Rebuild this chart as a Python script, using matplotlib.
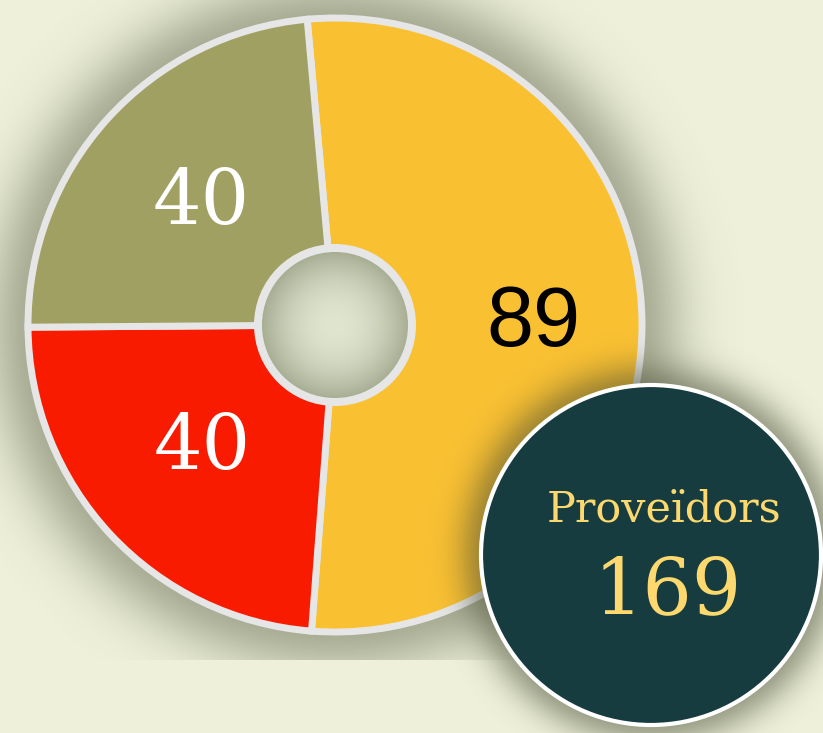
import numpy as np
import matplotlib
matplotlib.use('Agg')
import matplotlib.pyplot as plt
from matplotlib.patches import Circle

# ------------------------
# data
# ------------------------
values = [89, 40, 40]
labels = ['89', '40', '40']
colors = ['#f9c032', '#f81b00', '#a0a062']
label_colors = ['black', 'white', 'white']
total_title = 'Proveïdors'
total = sum(values)

bg = '#eef0d9'
W, H = 823, 733

fig = plt.figure(figsize=(W / 100, H / 100), dpi=100)
fig.patch.set_facecolor(bg)
ax = fig.add_axes([0, 0, 1, 1])
ax.set_facecolor(bg)

# donut geometry (pixels, y up)
cx, cy = 335, H - 325
r_out = 310
r_hole = 81

# ------------------------
# soft shadow behind the donut (clipped at the bottom like the container)
# ------------------------
yy, xx = np.mgrid[0:H, 0:W] + 0.5
d = np.hypot(xx - cx, yy - (H - cy))
alpha = np.where(d > 300, 0.5 * np.exp(-((d - 300) / 50.0) ** 2), 0.5)
alpha[yy > 660] = 0
shadow = np.zeros((H, W, 4))
shadow[..., 0] = 0.38
shadow[..., 1] = 0.40
shadow[..., 2] = 0.30
shadow[..., 3] = alpha
ax.imshow(shadow, extent=(0, W, 0, H), origin='upper', zorder=1, interpolation='bilinear')

# ------------------------
# donut
# ------------------------
wedges, _ = ax.pie(values, colors=colors, startangle=95.2, counterclock=False,
                   radius=r_out - 3, center=(cx, cy), frame=False,
                   wedgeprops=dict(width=r_out - 3 - 76, edgecolor='#e6e6e6', linewidth=5))
for w in wedges:
    w.set_zorder(2)

label_r = [198, 181, 181]
for w, lab, col, r in zip(wedges, labels, label_colors, label_r):
    ang = np.deg2rad((w.theta1 + w.theta2) / 2)
    x = cx + r * np.cos(ang)
    y = cy + r * np.sin(ang)
    if col == 'black':
        ax.text(x, y, lab, ha='center', va='center', color=col, fontsize=61,
                family='Liberation Sans', zorder=5)
    else:
        ax.text(x, y, lab, ha='center', va='center', color=col, fontsize=55,
                family='DejaVu Serif', zorder=5)

# hole: grey ring + radial gradient
ax.add_patch(Circle((cx, cy), r_hole, fc='#e6e6e6', ec='none', zorder=3))
hr = 73
gy, gx = np.mgrid[-hr:hr:0.5, -hr:hr:0.5]
t = np.clip(np.hypot(gx, gy) / hr, 0, 1) ** 2
c0 = np.array([224, 229, 208]) / 255
c1 = np.array([168, 174, 148]) / 255
hole = c0 * (1 - t[..., None]) + c1 * t[..., None]
im = ax.imshow(hole, extent=(cx - hr, cx + hr, cy - hr, cy + hr), zorder=4)
clip = Circle((cx, cy), hr, transform=ax.transData)
im.set_clip_path(clip)

# ------------------------
# total badge
# ------------------------
bx, by, br = 651, H - 555, 172
d2 = np.hypot(xx - bx, yy - (H - by))
a2 = np.where(d2 > 165, 0.5 * np.exp(-((d2 - 165) / 28.0) ** 2), 0)
sh2 = np.zeros((H, W, 4))
sh2[..., 0] = 0.28
sh2[..., 1] = 0.30
sh2[..., 2] = 0.20
sh2[..., 3] = a2
ax.imshow(sh2, extent=(0, W, 0, H), origin='upper', zorder=6, interpolation='bilinear')

ax.add_patch(Circle((bx, by), br - 2, fc='#163c40', ec='white', lw=3, zorder=7))
ax.text(664, H - 509, total_title, ha='center', va='center', color='#fcd86e',
        fontsize=31, family='DejaVu Serif', zorder=8)
ax.text(668, H - 592, str(total), ha='center', va='center', color='#fcd86e',
        fontsize=56, family='DejaVu Serif', zorder=8)

ax.set_xlim(0, W)
ax.set_ylim(0, H)
ax.set_aspect('auto')
ax.axis('off')

fig.savefig('out.png', dpi=100, facecolor=bg)
